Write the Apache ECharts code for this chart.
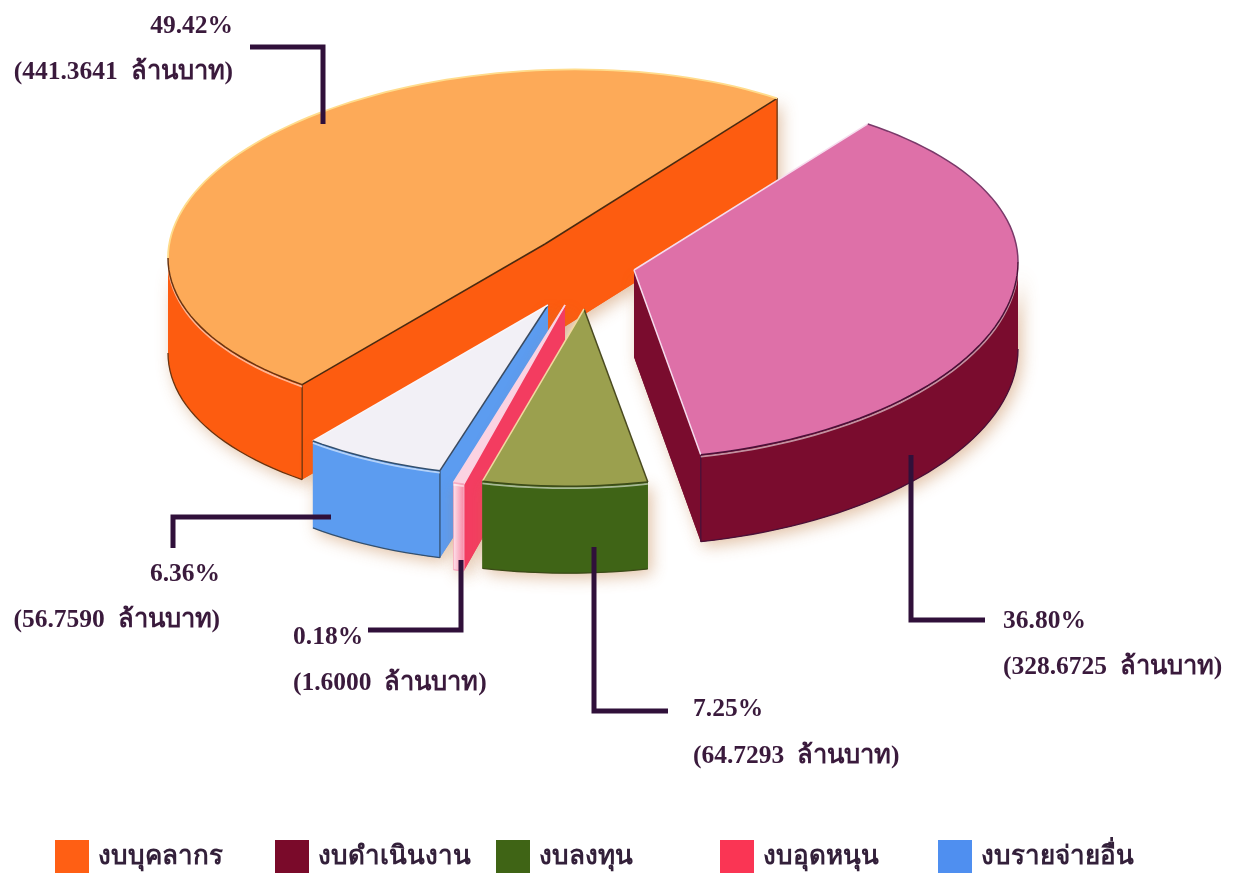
<!DOCTYPE html>
<html>
<head>
<meta charset="utf-8">
<title>งบประมาณ</title>
<style>
    html, body { margin: 0; padding: 0; background: #fff; }
    #main { width: 1246px; height: 876px; }
</style>
<script src="https://cdn.jsdelivr.net/npm/echarts@6/dist/echarts.min.js"></script>
</head>
<body>
<div id="main"></div>
<script>
/* ------ data ------ */
var categories = ['งบบุคลากร', 'งบดำเนินงาน', 'งบลงทุน', 'งบอุดหนุน', 'งบรายจ่ายอื่น'];
var amounts = [441.3641, 328.6725, 64.7293, 1.6000, 56.7590];
var percents = [49.42, 36.80, 7.25, 0.18, 6.36];
var unitText = 'ล้านบาท';

/* ------ look ------ */
var wallColors = ['#fd5c10', '#7a0c2e', '#3f6416', '#f33c60', '#5c9cf0'];
var topColors = ['#fdaa58', '#de70a8', '#9ba04e', '#fbd3e2', '#f2f0f6'];
var frontEdge = ['#6a3410', '#4a1038', '#3c4a18', '#f7a9c0', '#34506e'];
var backEdge = ['#ffdc8c', '#7a3a6a', '#9ba04e', '#fbd3e2', '#f2f0f6'];
var fromEdge = ['#4a2a10', '#f6dcee', '#4a4a20', '#fbd3e2', '#3a4a60'];
var toEdge = ['#4a2a10', '#f6dcee', '#f1d9a0', '#fbd3e2', '#f8f6fa'];
var legendColors = ['#ff5f14', '#7a0a2a', '#3f6415', '#fa3554', '#4f8ff0'];
var legendLeft = [55, 275, 496, 720, 938];

// each exploded slice: apex, radii, shear, extrusion, small angle correction
var sliceGeom = [
    { cx: 545, cy: 244, a: 377, b: 172, bUp: 174, k: -14, depth: 95, turn: 0 },
    { cx: 634, cy: 270, a: 384, b: 189, bUp: 178, k: -8, depth: 87, turn: -0.5 },
    { cx: 584, cy: 309, a: 367, b: 177, bUp: 177, k: -8, depth: 87, turn: -0.5 },
    { cx: 565, cy: 305, a: 366, b: 184, bUp: 184, k: -8, depth: 87, turn: 0 },
    { cx: 548, cy: 305, a: 365, b: 171, bUp: 171, k: -8, depth: 87, turn: 0 }
];
var startAngle = 130.1;     // where the first slice begins, clockwise on screen
var minSweep = 1.7;         // the very thin slice is drawn wider than its share

// label block of every slice [x, y of percent, y of amount, align]
var labelPos = [
    [233, 26, 72, 'right'],
    [1003, 621, 667, 'left'],
    [693, 709, 756, 'left'],
    [293, 637, 683, 'left'],
    [220, 574, 620, 'right']
];
var leaders = [
    [[250, 47], [323, 47], [323, 124]],
    [[911, 455], [911, 620], [985, 620]],
    [[594, 547], [594, 711], [668, 711]],
    [[368, 630], [461, 630], [461, 560]],
    [[173, 548], [173, 517], [331, 517]]
];

var total = 0;
amounts.forEach(function (v) { total += v; });

var cumulated = [];
(function () {
    var acc = startAngle;
    amounts.forEach(function (v) {
        cumulated.push(acc);
        acc += v / total * 360;
    });
})();

function ellipsePoint(g, deg, dy) {
    var t = deg * Math.PI / 180;
    var s = Math.sin(t);
    return [
        g.cx + g.a * Math.cos(t),
        g.cy + (s < 0 ? g.bUp : g.b) * s + g.k * Math.cos(t) + (dy || 0)
    ];
}

function arcPoints(g, from, to, dy) {
    var pts = [];
    var n = Math.max(2, Math.ceil(Math.abs(to - from) / 2));
    for (var i = 0; i <= n; i++) {
        pts.push(ellipsePoint(g, from + (to - from) * i / n, dy));
    }
    return pts;
}

// the side of an apex edge is seen only if the top face lies above that edge
function edgeFacesViewer(g, deg, middle) {
    var p = ellipsePoint(g, deg);
    var m = [g.cx + (middle[0] - g.cx) * 0.6, g.cy + (middle[1] - g.cy) * 0.6];
    var dx = p[0] - g.cx;
    if (Math.abs(dx) < 0.01) return false;
    return m[1] < g.cy + (p[1] - g.cy) * (m[0] - g.cx) / dx;
}

function line(points, color, width) {
    return {
        type: 'polyline',
        shape: { points: points },
        style: { fill: 'none', stroke: color, lineWidth: width }
    };
}

function renderSlice(params, api) {
    var i = params.seriesIndex;
    var g = sliceGeom[i];
    var sweep = api.value(0) / total * 360;
    var from = cumulated[i] + g.turn;
    if (from > 180) from -= 360;
    if (sweep < minSweep) {
        from -= (minSweep - sweep) / 2;
        sweep = minSweep;
    }
    var to = from + sweep;
    var mid = ellipsePoint(g, (from + to) / 2);
    var apex = [g.cx, g.cy];
    var walls = [];
    var details = [];

    // flat walls along the two apex edges
    [from, to].forEach(function (deg) {
        if (!edgeFacesViewer(g, deg, mid)) return;
        var p = ellipsePoint(g, deg);
        walls.push({ points: [apex, p, [p[0], p[1] + g.depth], [apex[0], apex[1] + g.depth]], fill: wallColors[i] });
        details.push(line([p, [p[0], p[1] + g.depth]], frontEdge[i], 1.3));
    });

    // outer curved wall, front half only
    var wallFrom = Math.max(from, 0);
    var wallTo = Math.min(to, 180);
    var hasWall = wallTo > wallFrom;
    if (hasWall) {
        var fill = wallColors[i];
        if (sweep < 5) {
            // the thin slice shows a pale strip fading into its colour
            fill = new echarts.graphic.LinearGradient(0, 0, 1, 0, [
                { offset: 0, color: '#fde0ea' },
                { offset: 1, color: '#f78aa6' }
            ]);
        }
        walls.push({
            points: arcPoints(g, wallFrom, wallTo, 0).concat(arcPoints(g, wallTo, wallFrom, g.depth)),
            fill: fill
        });
        details.push(line(arcPoints(g, wallFrom, wallTo, g.depth), frontEdge[i], 1.3));
    }

    var children = [];
    // shadow pass first, so that it never lands on the slice's own walls
    walls.forEach(function (w) {
        children.push({
            type: 'polygon',
            shape: { points: w.points },
            style: {
                fill: wallColors[i],
                shadowBlur: 16,
                shadowColor: 'rgba(190,120,60,0.45)',
                shadowOffsetX: 4,
                shadowOffsetY: 5
            }
        });
    });
    walls.forEach(function (w) {
        children.push({
            type: 'polygon',
            shape: { points: w.points },
            style: { fill: w.fill }
        });
    });
    children = children.concat(details);

    // top face
    children.push({
        type: 'polygon',
        shape: { points: [apex].concat(arcPoints(g, from, to, 0)) },
        style: { fill: topColors[i] }
    });
    children.push(line([apex, ellipsePoint(g, from)], fromEdge[i], 1.5));
    children.push(line([apex, ellipsePoint(g, to)], toEdge[i], 1.5));

    // back part of the rim, then the dark front part with a pale line under it
    if (from < 0) children.push(line(arcPoints(g, from, Math.min(to, 0), 0), backEdge[i], 1.5));
    if (to > 180) children.push(line(arcPoints(g, Math.max(from, 180), to, 0), backEdge[i], 1.8));
    if (hasWall) {
        children.push(line(arcPoints(g, wallFrom, wallTo, 2), 'rgba(255,255,255,0.55)', 1.8));
        children.push(line(arcPoints(g, wallFrom, wallTo, 0), frontEdge[i], 1.5));
    }
    return { type: 'group', children: children };
}

var series = categories.map(function (name, i) {
    return {
        name: name,
        type: 'custom',
        coordinateSystem: 'none',
        silent: true,
        clip: false,
        z: [2, 3, 6, 5, 4][i],
        itemStyle: { color: legendColors[i] },
        renderItem: renderSlice,
        data: [[amounts[i]]]
    };
});

var legends = categories.map(function (name, i) {
    return {
        data: [name],
        left: legendLeft[i],
        top: 840,
        padding: 0,
        icon: 'rect',
        itemWidth: 34,
        itemHeight: 33,
        selectedMode: false,
        textStyle: {
            fontFamily: '"Noto Sans", "DejaVu Sans", sans-serif',
            fontWeight: 'bold',
            fontSize: 26,
            color: '#33203a',
            padding: [4, 0, 0, 4]
        }
    };
});

/* ------ leaders and labels ------ */
var inkColor = '#3a1a3c';
var lineColor = '#30103a';
var labelFont = '"Liberation Serif", "Noto Sans", serif';
var graphics = [];

leaders.forEach(function (pts) {
    graphics.push({
        type: 'polyline',
        silent: true,
        z: 20,
        shape: { points: pts },
        style: { fill: 'none', stroke: lineColor, lineWidth: 5, lineJoin: 'miter' }
    });
});

labelPos.forEach(function (pos, i) {
    var base = { fill: inkColor, font: 'bold 25.5px ' + labelFont, textAlign: pos[3], textVerticalAlign: 'middle' };
    graphics.push({
        type: 'text',
        silent: true,
        z: 20,
        style: Object.assign({ x: pos[0], y: pos[1], text: percents[i].toFixed(2) + '%' }, base)
    });
    graphics.push({
        type: 'text',
        silent: true,
        z: 20,
        style: Object.assign({ x: pos[0], y: pos[2], text: '(' + amounts[i].toFixed(4) + '  ' + unitText + ')' }, base)
    });
});

var chart = echarts.init(document.getElementById('main'), null, { renderer: 'canvas' });
chart.setOption({
    animation: false,
    backgroundColor: '#ffffff',
    legend: legends,
    graphic: graphics,
    series: series
});
</script>
</body>
</html>
